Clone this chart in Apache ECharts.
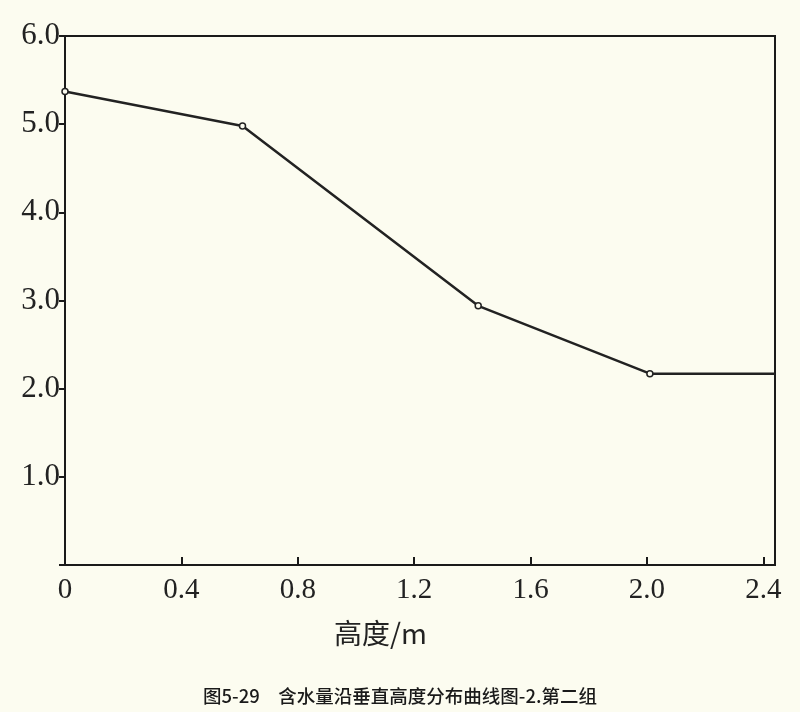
<!DOCTYPE html>
<html><head><meta charset="utf-8">
<script src="https://cdn.jsdelivr.net/npm/echarts@6/dist/echarts.min.js"></script>
<style>html,body{margin:0;padding:0;background:#fcfcf0;}#c{width:800px;height:712px;}</style>
</head><body><div id="c"></div>
<script>
const heights = [0, 0.61, 1.42, 2.01, 2.44];
const moisture = [5.37, 4.98, 2.94, 2.17, 2.17];
const xTicks = [0, 0.4, 0.8, 1.2, 1.6, 2.0, 2.4];
const yTicks = [1, 2, 3, 4, 5, 6];
const xName = '高度/m';
const caption = '图5-29　含水量沿垂直高度分布曲线图-2.第二组';

const chart = echarts.init(document.getElementById('c'), null, {renderer: 'canvas'});
const serif = '"Liberation Serif", "DejaVu Serif", serif';
chart.setOption({
  backgroundColor: '#fcfcf0',
  animation: false,
  title: {
    text: caption, left: 'center', top: 682,
    textStyle: {fontFamily: '"Noto Sans CJK SC"', fontSize: 18.5, fontWeight: 500, color: '#1a1a1a'}
  },
  graphic: [{
    type: 'text', left: 334, top: 619,
    style: {text: xName, font: '28px "Noto Sans CJK SC"', fill: '#222'}
  }],
  grid: {left: 65, right: 25, top: 36, bottom: 147, show: true, borderColor: '#1a1a1a', borderWidth: 2, backgroundColor: 'transparent'},
  xAxis: {
    type: 'value', min: 0, max: 2.44, interval: 0.4,
    axisLine: {show: true, lineStyle: {color: '#1a1a1a', width: 2}},
    axisTick: {show: true, inside: true, length: 8, lineStyle: {color: '#1a1a1a', width: 2}},
    splitLine: {show: false},
    axisLabel: {
      fontFamily: serif, fontSize: 29, color: '#222', margin: 11, showMaxLabel: false,
      formatter: v => { const t = xTicks.find(x => Math.abs(x - v) < 1e-6); return t === undefined ? '' : (t === 0 ? '0' : t.toFixed(1)); }
    }
  },
  yAxis: {
    type: 'value', min: 0, max: 6, interval: 1,
    axisLine: {show: true, lineStyle: {color: '#1a1a1a', width: 2}},
    axisTick: {show: true, inside: false, length: 6, lineStyle: {color: '#1a1a1a', width: 2}},
    splitLine: {show: false},
    axisLabel: {
      fontFamily: serif, fontSize: 31, color: '#222', margin: 5,
      formatter: v => yTicks.includes(v) ? v.toFixed(1) : ''
    }
  },
  series: [{
    type: 'line',
    data: heights.map((h, i) => i === heights.length - 1 ? {value: [h, moisture[i]], symbol: 'none'} : [h, moisture[i]]),
    symbol: 'circle', symbolSize: 6, showAllSymbol: true,
    itemStyle: {color: '#fcfcf0', borderColor: '#222', borderWidth: 1.5},
    lineStyle: {color: '#222', width: 2.5},
    clip: false
  }]
});
</script></body></html>
